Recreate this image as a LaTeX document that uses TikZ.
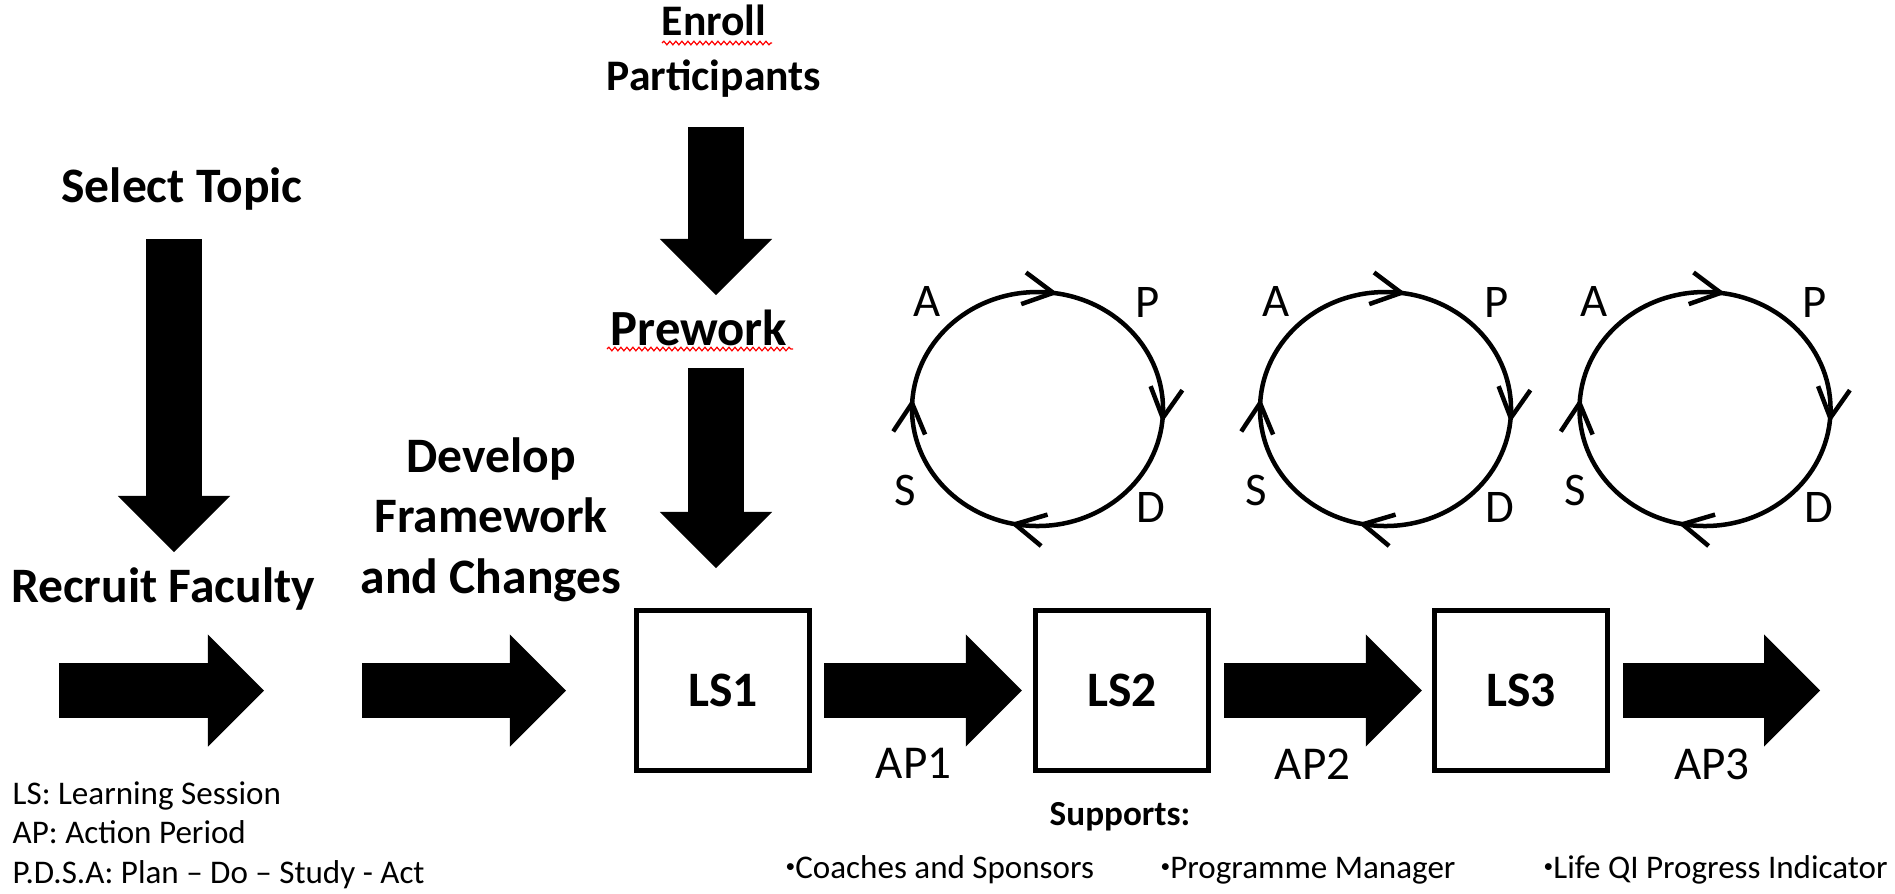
\documentclass[tikz,border=0pt]{standalone}
\usepackage{fontspec}
\setmainfont{Carlito}
\usetikzlibrary{arrows.meta,decorations.markings,decorations.pathmorphing}
\newcommand{\supdot}{\raisebox{1.7pt}{\fontsize{5.5}{6}\selectfont•}}

\begin{document}
\begin{tikzpicture}
	[x=0.01cm, y=-0.01cm,
	big_step/.style={font=\bfseries\fontsize{14.1}{17.1}\selectfont, align=center, inner sep=0pt},
	top_step/.style={font=\bfseries\fontsize{12.4}{15.6}\selectfont, align=center, inner sep=0pt},
	ls_style/.style={draw=black, line width=0.05cm, minimum width=1.73cm, minimum height=1.6cm,
		inner sep=0pt, font=\bfseries\fontsize{14.1}{17}\selectfont},
	fat_arrow/.style={draw=black, line width=0.55cm,
		-{Triangle[length=0.56cm, width=1.12cm, line width=0pt]}},
	ap_label/.style={pos=0.46, below=0.58cm, inner sep=0pt, outer sep=0pt, font=\fontsize{13.4}{16}\selectfont},
	pdsa_letter/.style={inner sep=0pt, font=\fontsize{13.3}{16}\selectfont},
	cycle_style/.style={draw=black, line width=0.045cm, postaction={decorate},
		decoration={markings,
			mark=at position 0.018 with {\arrow{Straight Barb[length=0.3cm, width=0.32cm]}},
			mark=at position 0.286 with {\arrow{Straight Barb[length=0.3cm, width=0.32cm]}},
			mark=at position 0.514 with {\arrow{Straight Barb[length=0.3cm, width=0.32cm]}},
			mark=at position 0.777 with {\arrow{Straight Barb[length=0.3cm, width=0.32cm]}}}},
	note_text/.style={font=\fontsize{9.4}{11.1}\selectfont, inner sep=0pt, align=left},
	spell_mark/.style={draw=red, line width=0.012cm, decorate,
		decoration={snake, amplitude=0.018cm, segment length=0.06cm}}]
	\useasboundingbox (0,0) rectangle (1895,893);

	% steps before the sessions (base = last line)
	\node[top_step, anchor=base] (enroll) at (714,90) {Enroll\\Participants};
	\node[big_step, anchor=base, font=\bfseries\fontsize{14.4}{17.1}\selectfont] (prework) at (699,345) {Prework};
	\node[big_step, anchor=base] (topic) at (182,202) {Select Topic};
	\node[big_step, anchor=base] (recruit) at (163,602) {Recruit Faculty};
	\node[big_step, anchor=base] (develop) at (491,593) {Develop\\Framework\\and Changes};
	\draw[spell_mark] (662,43) -- (772,43);
	\draw[spell_mark] (607,349) -- (793,349);

	% learning sessions
	\node[ls_style] (ls1) at (723,690.5) {LS1};
	\node[ls_style] (ls2) at (1122,690.5) {LS2};
	\node[ls_style] (ls3) at (1521,690.5) {LS3};

	\coordinate (enroll_out) at (716,127);
	\coordinate (prework_in) at (716,295);
	\coordinate (prework_out) at (716,368);
	\coordinate (ls1_in) at (716,568);
	\coordinate (topic_out) at (174,239);
	\coordinate (recruit_in) at (174,552);
	\coordinate (recruit_out) at (59,690.5);
	\coordinate (develop_in) at (264,690.5);
	\coordinate (develop_out) at (362,690.5);
	\coordinate (develop_end) at (566,690.5);
	\coordinate (finish) at (1820,690.5);

	\draw[fat_arrow] (enroll_out) -- (prework_in);
	\draw[fat_arrow] (prework_out) -- (ls1_in);
	\draw[fat_arrow] (topic_out) -- (recruit_in);
	\draw[fat_arrow] (recruit_out) -- (develop_in);
	\draw[fat_arrow] (develop_out) -- (develop_end);
	\draw[fat_arrow, shorten <=0.12cm, shorten >=0.11cm] (ls1) edge node[ap_label] (ap1) {AP1} (ls2);
	\draw[fat_arrow, shorten <=0.13cm, shorten >=0.10cm] (ls2) edge node[ap_label] (ap2) {AP2} (ls3);
	\draw[fat_arrow, shorten <=0.13cm] (ls3) edge node[ap_label, pos=0.485] (ap3) {AP3} (finish);

	% PDSA cycles
	\coordinate (c1) at (1037.5,409);
	\coordinate (c2) at (1385.5,409);
	\coordinate (c3) at (1705,409);
	\draw[cycle_style] (c1) ellipse [x radius=125.5, y radius=117];
	\draw[cycle_style] (c2) ellipse [x radius=125.5, y radius=117];
	\draw[cycle_style] (c3) ellipse [x radius=125.5, y radius=117];
	\node[pdsa_letter] (a1) at (927,301) {A};
	\node[pdsa_letter] (p1) at (1148,302) {P};
	\node[pdsa_letter] (s1) at (905,490) {S};
	\node[pdsa_letter] (d1) at (1151,507) {D};
	\node[pdsa_letter] (a2) at (1276,301) {A};
	\node[pdsa_letter] (p2) at (1497,302) {P};
	\node[pdsa_letter] (s2) at (1256,490) {S};
	\node[pdsa_letter] (d2) at (1500,507) {D};
	\node[pdsa_letter] (a3) at (1594,301) {A};
	\node[pdsa_letter] (p3) at (1815,302) {P};
	\node[pdsa_letter] (s3) at (1575,490) {S};
	\node[pdsa_letter] (d3) at (1819,507) {D};

	% key and supports
	\node[note_text, anchor=base west] (legend) at (12,883)
		{LS: Learning Session\\AP: Action Period\\P.D.S.A: Plan – Do – Study - Act};
	\node[note_text, anchor=base, font=\bfseries\fontsize{10}{12}\selectfont] (supports) at (1120,825) {Supports:};
	\node[note_text, anchor=base west] (sup1) at (785,878) {\supdot Coaches and Sponsors};
	\node[note_text, anchor=base west] (sup2) at (1160,878) {\supdot Programme Manager};
	\node[note_text, anchor=base west] (sup3) at (1543,878) {\supdot Life QI Progress Indicator};
\end{tikzpicture}
\end{document}
